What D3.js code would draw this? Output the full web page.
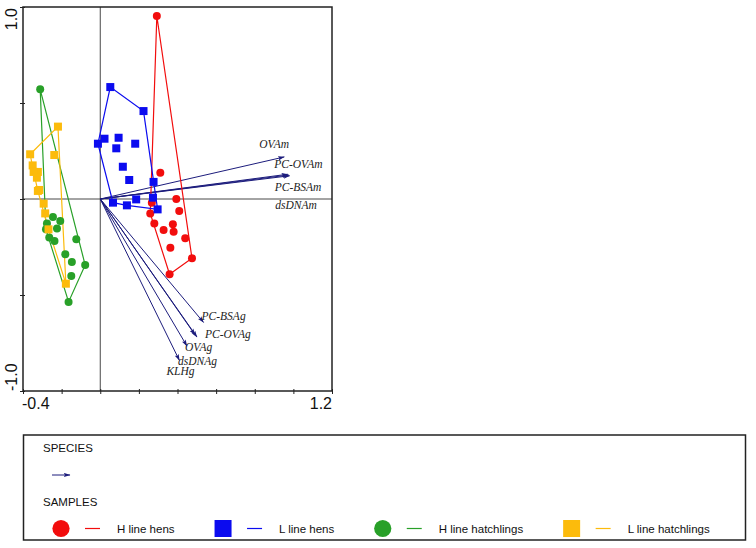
<!DOCTYPE html>
<html>
<head>
<meta charset="utf-8">
<script src="https://cdn.jsdelivr.net/npm/d3@7"></script>
<style>
body { margin: 0; background: #fff; }
svg { display: block; }
</style>
</head>
<body>
<svg id="chart" width="756" height="548"></svg>
<script>
// sample scores [axis1, axis2]
const hLineHens = [[0.293, 0.953], [0.311, 0.137], [0.394, 0.0], [0.409, -0.062], [0.267, -0.019],
    [0.259, -0.075], [0.28, -0.127], [0.328, -0.161], [0.376, -0.132], [0.38, -0.17],
    [0.44, -0.205], [0.363, -0.254], [0.475, -0.309], [0.359, -0.392]];
const lLineHens = [[0.052, 0.583], [0.224, 0.458], [-0.012, 0.288], [0.022, 0.314], [0.095, 0.319],
    [0.083, 0.264], [0.181, 0.288], [0.117, 0.168], [0.15, 0.099], [0.276, 0.089],
    [0.273, 0.007], [0.186, -0.002], [0.066, -0.019], [0.138, -0.033], [0.297, -0.054]];
const hLineHatchlings = [[-0.311, 0.571], [-0.245, -0.094], [-0.207, -0.115], [-0.276, -0.127], [-0.224, -0.153],
    [-0.281, -0.158], [-0.264, -0.201], [-0.237, -0.219], [-0.124, -0.21], [-0.181, -0.288],
    [-0.147, -0.328], [-0.15, -0.401], [-0.078, -0.344], [-0.164, -0.536]];
const lLineHatchlings = [[-0.219, 0.377], [-0.363, 0.233], [-0.238, 0.229], [-0.35, 0.175], [-0.323, 0.141],
    [-0.345, 0.141], [-0.328, 0.111], [-0.316, 0.047], [-0.323, 0.042], [-0.293, -0.024],
    [-0.285, -0.075], [-0.268, -0.158], [-0.178, -0.441]];

const groupNames = ["H line hens", "L line hens", "H line hatchlings", "L line hatchlings"];
const groupData = [hLineHens, lLineHens, hLineHatchlings, lLineHatchlings];
const groupShapes = ["circle", "square", "circle", "square"];
const groupColors = ["#f20d0d", "#0b0bef", "#28a028", "#fcbb0c"];

// species vectors
const speciesNames = ["OVAm", "PC-OVAm", "PC-BSAm", "dsDNAm", "PC-BSAg", "PC-OVAg", "OVAg", "dsDNAg", "KLHg"];
const speciesX = [0.953, 0.971, 0.981, 0.976, 0.535, 0.501, 0.491, 0.449, 0.41];
const speciesY = [0.219, 0.129, 0.121, 0.125, -0.643, -0.719, -0.708, -0.766, -0.841];
// label offset from the arrow tip (layout only)
const labelOffset = [[-25, -9], [-13.5, -6], [-15, 15], [-13.5, 33.5], [-2, -2], [8, 1], [-10, 16], [-9, 18.5], [-13, 15]];

const xTicks = [-0.4, -0.2, 0, 0.2, 0.4, 0.6, 0.8, 1.0, 1.2];
const yTicks = [-1, -0.5, 0, 0.5, 1];
const xEndLabels = ["-0.4", "1.2"];
const yEndLabels = ["-1.0", "1.0"];

const arrowColor = "#1c1c7c";
const margin = {top: 7, left: 23};
const width = 309, height = 384;

const svg = d3.select("#chart");
const x = d3.scaleLinear().domain([-0.4, 1.2]).range([margin.left, margin.left + width]);
const y = d3.scaleLinear().domain([-1, 1]).range([margin.top + height, margin.top]);

svg.append("defs").append("marker")
    .attr("id", "head")
    .attr("viewBox", "0 -3 8 6")
    .attr("refX", 7.5).attr("refY", 0)
    .attr("markerUnits", "userSpaceOnUse")
    .attr("markerWidth", 7).attr("markerHeight", 5)
    .attr("orient", "auto")
    .append("path")
    .attr("d", "M0,-2.6L8,0L0,2.6L1.5,0Z")
    .attr("fill", arrowColor);

// zero lines
svg.append("line")
    .attr("x1", x(0)).attr("x2", x(0)).attr("y1", y(1)).attr("y2", y(-1))
    .attr("stroke", "#333").attr("stroke-width", 0.9);
svg.append("line")
    .attr("x1", x(-0.4)).attr("x2", x(1.2)).attr("y1", y(0)).attr("y2", y(0))
    .attr("stroke", "#333").attr("stroke-width", 0.9);

// axes ticks
svg.append("g")
    .attr("transform", "translate(0," + (margin.top + height) + ")")
    .call(d3.axisBottom(x).tickValues(xTicks).tickFormat("").tickSizeInner(3).tickSizeOuter(0))
    .call(g => g.select(".domain").remove())
    .selectAll("line").attr("stroke", "#222").attr("y1", -2);
svg.append("g")
    .attr("transform", "translate(" + margin.left + ",0)")
    .call(d3.axisLeft(y).tickValues(yTicks).tickFormat("").tickSizeInner(3).tickSizeOuter(0))
    .call(g => g.select(".domain").remove())
    .selectAll("line").attr("stroke", "#222").attr("x1", 2);

// species arrows
const vec = svg.append("g");
speciesNames.forEach((name, i) => {
    vec.append("line")
        .attr("x1", x(0)).attr("y1", y(0))
        .attr("x2", x(speciesX[i])).attr("y2", y(speciesY[i]))
        .attr("stroke", arrowColor).attr("stroke-width", 1)
        .attr("marker-end", "url(#head)");
    vec.append("text")
        .attr("x", x(speciesX[i]) + labelOffset[i][0])
        .attr("y", y(speciesY[i]) + labelOffset[i][1])
        .attr("font-family", "Liberation Serif, Times New Roman, serif")
        .attr("font-style", "italic")
        .attr("font-size", 11.5)
        .attr("fill", "#222")
        .text(name);
});

// hulls and points
groupData.forEach((pts, gi) => {
    const px = pts.map(p => [x(p[0]), y(p[1])]);
    const hull = d3.polygonHull(px);
    svg.append("path")
        .attr("d", "M" + hull.join("L") + "Z")
        .attr("fill", "none")
        .attr("stroke", groupColors[gi])
        .attr("stroke-width", 1.2);
});
groupData.forEach((pts, gi) => {
    const g = svg.append("g");
    if (groupShapes[gi] == "circle") {
        g.selectAll("circle").data(pts).enter().append("circle")
            .attr("cx", d => x(d[0])).attr("cy", d => y(d[1]))
            .attr("r", 4).attr("fill", groupColors[gi]);
    } else {
        g.selectAll("rect").data(pts).enter().append("rect")
            .attr("x", d => x(d[0]) - 4).attr("y", d => y(d[1]) - 4)
            .attr("width", 8).attr("height", 8).attr("fill", groupColors[gi]);
    }
});

// frame
svg.append("rect")
    .attr("x", margin.left).attr("y", margin.top)
    .attr("width", width).attr("height", height)
    .attr("fill", "none").attr("stroke", "#222").attr("stroke-width", 1.5);

// end labels
const tickFont = "Liberation Sans, Arial, sans-serif";
svg.append("text").attr("x", x(-0.4) - 1).attr("y", 409)
    .attr("font-family", tickFont).attr("font-size", 16).attr("fill", "#111")
    .text(xEndLabels[0]);
svg.append("text").attr("x", x(1.2)).attr("y", 409).attr("text-anchor", "end")
    .attr("font-family", tickFont).attr("font-size", 16).attr("fill", "#111")
    .text(xEndLabels[1]);
svg.append("text").attr("transform", "translate(17," + y(-1) + ") rotate(-90)")
    .attr("font-family", tickFont).attr("font-size", 16).attr("fill", "#111")
    .text(yEndLabels[0]);
svg.append("text").attr("transform", "translate(17," + (y(1) + 1) + ") rotate(-90)")
    .attr("text-anchor", "end")
    .attr("font-family", tickFont).attr("font-size", 16).attr("fill", "#111")
    .text(yEndLabels[1]);

// legend
const legend = svg.append("g");
legend.append("rect")
    .attr("x", 23.5).attr("y", 435).attr("width", 722).attr("height", 105)
    .attr("fill", "none").attr("stroke", "#222").attr("stroke-width", 1.5);
legend.append("text").attr("x", 43).attr("y", 452)
    .attr("font-family", tickFont).attr("font-size", 11.5).attr("fill", "#111")
    .text("SPECIES");
legend.append("line")
    .attr("x1", 52).attr("x2", 70).attr("y1", 475).attr("y2", 475)
    .attr("stroke", arrowColor).attr("stroke-width", 1)
    .attr("marker-end", "url(#head)");
legend.append("text").attr("x", 43).attr("y", 506)
    .attr("font-family", tickFont).attr("font-size", 11.5).attr("fill", "#111")
    .text("SAMPLES");

let lx = 61;
const ly = 528.5;
groupNames.forEach((name, gi) => {
    if (groupShapes[gi] == "circle") {
        legend.append("circle").attr("cx", lx).attr("cy", ly).attr("r", 8.6)
            .attr("fill", groupColors[gi]);
    } else {
        legend.append("rect").attr("x", lx - 8.5).attr("y", ly - 8.5)
            .attr("width", 17).attr("height", 17).attr("fill", groupColors[gi]);
    }
    legend.append("line")
        .attr("x1", lx + 24).attr("x2", lx + 39).attr("y1", ly).attr("y2", ly)
        .attr("stroke", groupColors[gi]).attr("stroke-width", 1.2);
    const t = legend.append("text").attr("x", lx + 56).attr("y", ly + 4)
        .attr("font-family", tickFont).attr("font-size", 11.5).attr("fill", "#111")
        .text(name);
    lx = lx + 56 + t.node().getComputedTextLength() + 48.5;
});
</script>
</body>
</html>
